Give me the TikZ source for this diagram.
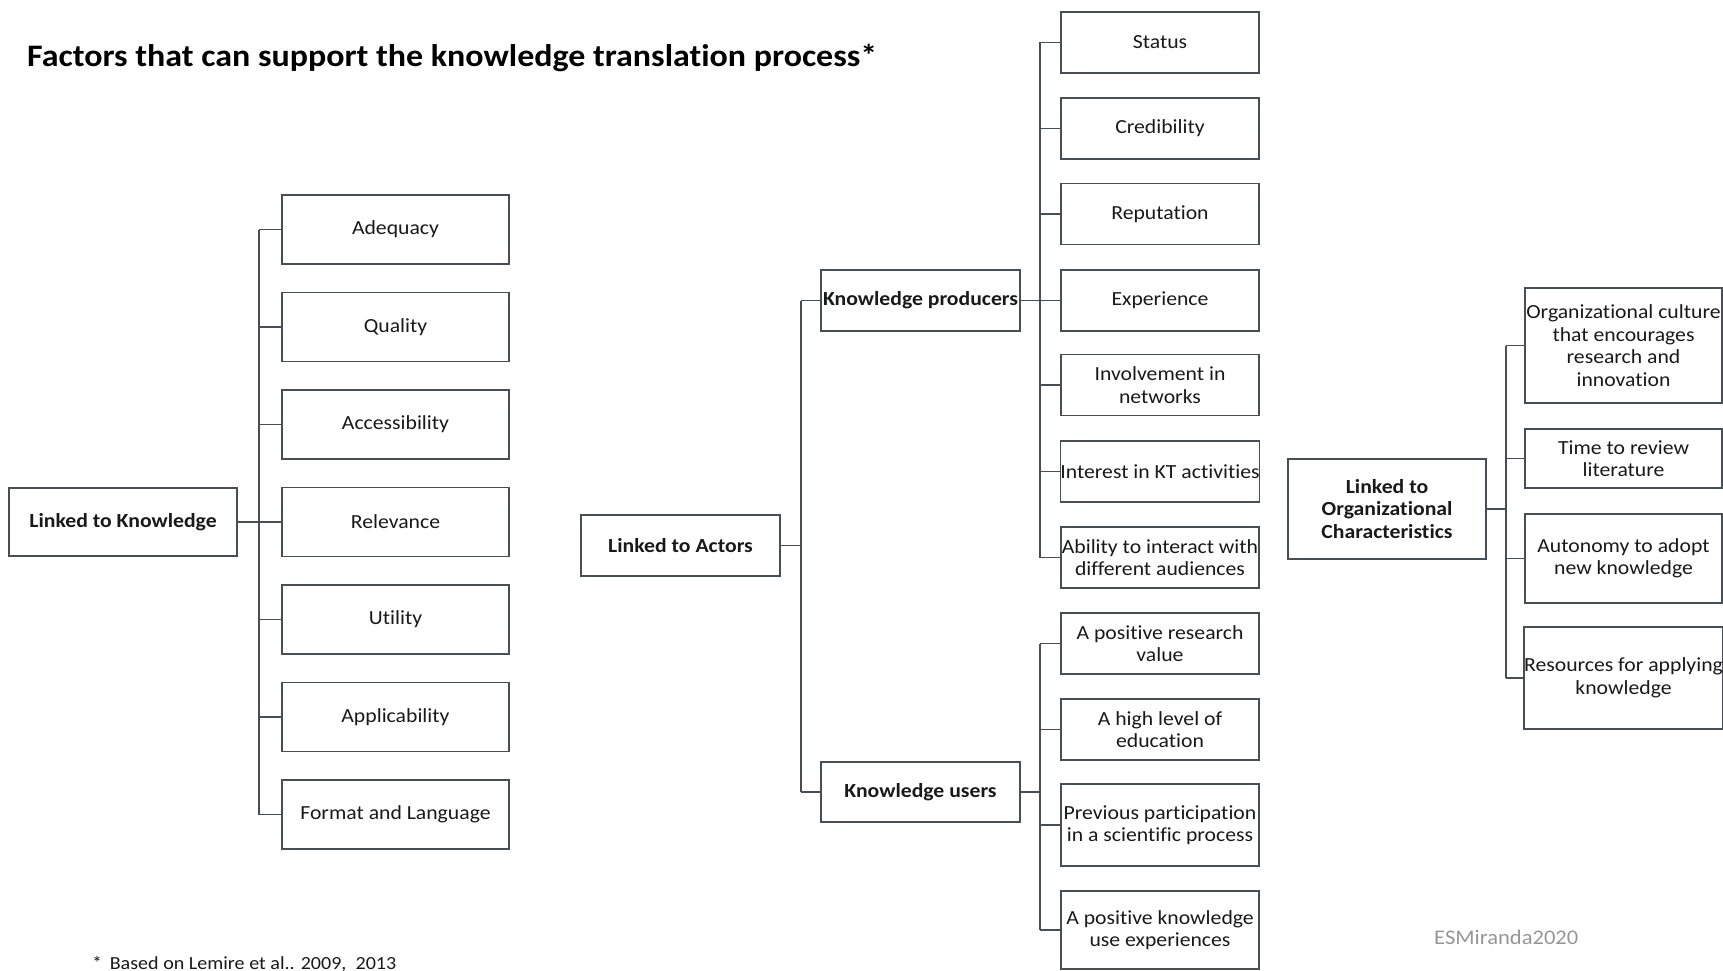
\documentclass[tikz,border=0pt]{standalone}
\usepackage{fontspec}
\setmainfont{Carlito}[FakeStretch=1.085, Ligatures=NoCommon]
\definecolor{edge}{RGB}{72,78,86}
\definecolor{ink}{RGB}{25,25,25}
\definecolor{sign}{RGB}{150,150,150}
\begin{document}
\begin{tikzpicture}[x=1pt,y=-1pt,
  box/.style={draw=edge, line width=1.3pt, rectangle, inner xsep=0pt, inner ysep=1pt, align=center,
    text=ink, font=\fontsize{20}{22.5}\selectfont},
  head/.style={box, font=\fontsize{20}{22.5}\selectfont\bfseries},
  link/.style={draw=edge, line width=1.3pt},
  kbox/.style={box, minimum width=227pt, minimum height=69pt},
  pbox/.style={box, minimum width=198pt, minimum height=61pt},
  obox/.style={box, minimum width=197pt}]
\useasboundingbox (0,0) rectangle (1723,971);

% title and notes
\node[anchor=base west, inner sep=0pt, font=\fontsize{31.3}{36}\selectfont\bfseries] (title) at (27,67)
  {Factors that can support the knowledge translation process*};
\node[anchor=base west, inner sep=0pt, text=ink, font=\fontsize{18.5}{22}\selectfont] (note) at (92,969)
  {*\ \,Based on Lemire et al.. 2009,\ \ 2013};
\node[anchor=base west, inner sep=0pt, text=sign, font=\fontsize{20.8}{22}\selectfont] (sig) at (1434,944)
  {ESMiranda2020};

% knowledge branch
\node[head, minimum width=228pt, minimum height=68pt] (lk) at (123,522) {Linked to Knowledge};
\node[kbox] (k1) at (395.5,229.5) {Adequacy};
\node[kbox] (k2) at (395.5,327) {Quality};
\node[kbox] (k3) at (395.5,424.5) {Accessibility};
\node[kbox] (k4) at (395.5,522) {Relevance};
\node[kbox] (k5) at (395.5,619.5) {Utility};
\node[kbox] (k6) at (395.5,717) {Applicability};
\node[kbox] (k7) at (395.5,814.5) {Format and Language};
\coordinate (tk) at (259,0);
\draw[link] (lk.east) -- (lk.east -| tk);
\draw[link] (k1.west -| tk) -- (k7.west -| tk);
\foreach \i in {1,...,7} \draw[link] (k\i.west -| tk) -- (k\i.west);

% actors branch
\node[head, minimum width=199pt, minimum height=61pt] (la) at (680.5,545.5) {Linked to Actors};
\node[head, minimum width=199pt, minimum height=61pt] (kp) at (920.5,300.5) {Knowledge producers};
\node[head, minimum width=199pt, minimum height=60pt] (ku) at (920.5,792) {Knowledge users};
\coordinate (ta) at (801,0);
\draw[link] (la.east) -- (la.east -| ta);
\draw[link] (kp.west -| ta) -- (ku.west -| ta);
\draw[link] (kp.west -| ta) -- (kp.west);
\draw[link] (ku.west -| ta) -- (ku.west);

% producers
\node[pbox] (p1) at (1160,42.5) {Status};
\node[pbox] (p2) at (1160,128.5) {Credibility};
\node[pbox] (p3) at (1160,214) {Reputation};
\node[pbox] (p4) at (1160,300.5) {Experience};
\node[pbox] (p5) at (1160,385) {Involvement in\\networks};
\node[pbox] (p6) at (1160,471.5) {Interest in KT activities};
\node[pbox] (p7) at (1160,557.5) {Ability to interact with\\different audiences};
\coordinate (tp) at (1040,0);
\draw[link] (kp.east) -- (kp.east -| tp);
\draw[link] (p1.west -| tp) -- (p7.west -| tp);
\foreach \i in {1,...,7} \draw[link] (p\i.west -| tp) -- (p\i.west);

% users
\node[pbox] (u1) at (1160,643.5) {A positive research\\value};
\node[pbox] (u2) at (1160,729.5) {A high level of\\education};
\node[pbox, minimum height=82pt] (u3) at (1160,825) {Previous participation\\in a scientific process};
\node[pbox, minimum height=78pt] (u4) at (1160,930) {A positive knowledge\\use experiences};
\draw[link] (ku.east) -- (ku.east -| tp);
\draw[link] (u1.west -| tp) -- (u4.west -| tp);
\foreach \i in {1,...,4} \draw[link] (u\i.west -| tp) -- (u\i.west);

% organizational branch
\node[head, minimum width=198pt, minimum height=100pt] (lo) at (1387,509) {Linked to\\Organizational\\Characteristics};
\node[obox, minimum height=115pt] (o1) at (1623.5,345.5) {Organizational culture\\that encourages\\research and\\innovation};
\node[obox, minimum height=59pt] (o2) at (1623.5,458.5) {Time to review\\literature};
\node[obox, minimum height=89pt] (o3) at (1623.5,558.5) {Autonomy to adopt\\new knowledge};
\node[obox, minimum height=102pt] (o4) at (1623.5,678) {Resources for applying\\knowledge};
\coordinate (to) at (1506,0);
\draw[link] (lo.east) -- (lo.east -| to);
\draw[link] (o1.west -| to) -- (o4.west -| to);
\foreach \i in {1,...,4} \draw[link] (o\i.west -| to) -- (o\i.west);
\end{tikzpicture}
\end{document}
